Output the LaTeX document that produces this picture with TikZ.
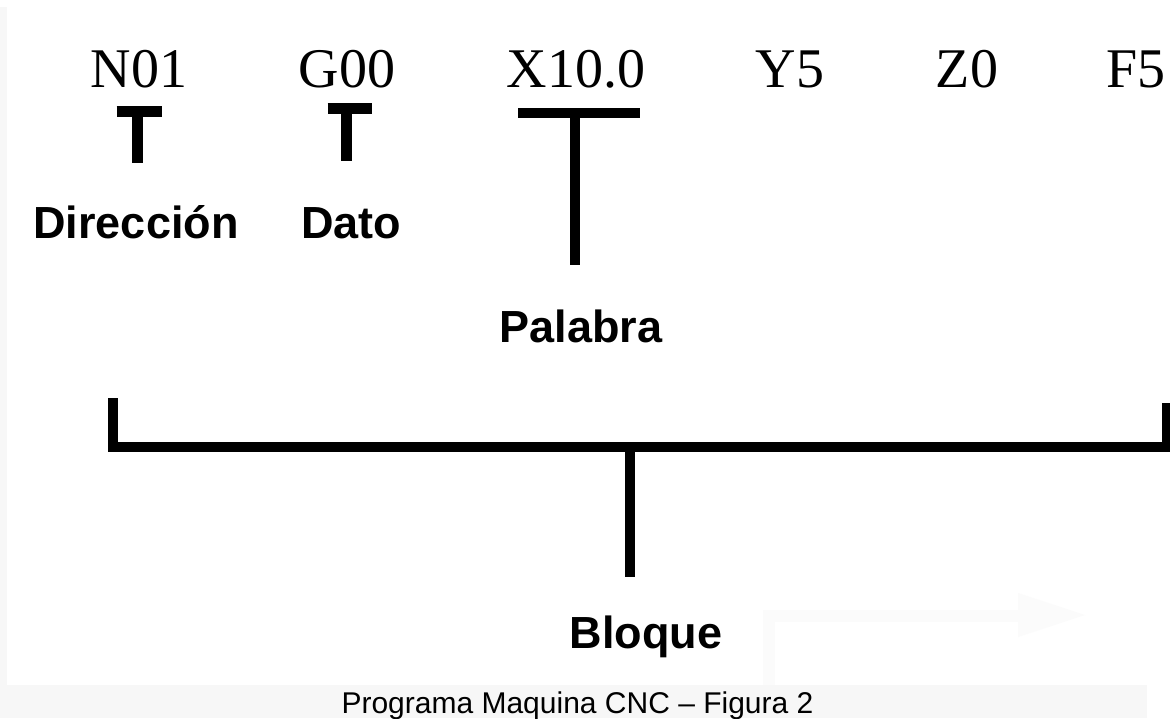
\documentclass[tikz,border=0pt]{standalone}
\usepackage{fontspec}
\setmainfont{Liberation Serif}
\newfontfamily\arialfont{Liberation Sans}
\definecolor{bandgray}{HTML}{F7F7F7}
\definecolor{faint}{HTML}{FBFBFB}
\begin{document}
\begin{tikzpicture}[x=1pt,y=-1pt,
  code/.style={anchor=base,inner sep=0pt,font=\fontsize{56}{60}\selectfont},
  lab/.style={anchor=base,inner sep=0pt,font=\arialfont\bfseries\fontsize{45}{48}\selectfont},
  thick bar/.style={line width=10.5pt},
  stem/.style={line width=11pt},
  brk/.style={line width=10pt}]
\useasboundingbox (0,0) rectangle (1170,718);
\fill[white] (0,0) rectangle (1170,718);
% scanned page edges
\fill[bandgray] (0,7) rectangle (7,685);
\fill[bandgray] (0,685) rectangle (1147,718);
% faint ghost arrow
\fill[faint] (763,610) rectangle (1022,622);
\fill[faint] (763,610) rectangle (775,685);
\fill[faint] (1018,593) -- (1085,615) -- (1018,637) -- cycle;

% code words
\node[code] (n01) at (139,87) {N01};
\node[code] (g00) at (347,87) {G00};
\node[code] (x10) at (576,87) {X10.0};
\node[code] (y5)  at (790,87) {Y5};
\node[code] (z0)  at (967,87) {Z0};
\node[code] (f5)  at (1136,87) {F5};

% labels
\node[lab] (dir) at (136,238) {Dirección};
\node[lab] (dato) at (351,238) {Dato};
\node[lab] (pal) at (581,342) {Palabra};
\node[lab] (blo) at (646,648) {Bloque};

% T under N01
\coordinate (t1l) at (116.7,111.5);
\coordinate (t1r) at (162.3,111.5);
\coordinate (t1s) at (137.5,106);
\coordinate (t1e) at (137.5,163);
\draw[thick bar] (t1l) -- (t1r);
\draw[stem] (t1s) -- (t1e);

% T under G00
\coordinate (t2l) at (327.7,108.7);
\coordinate (t2r) at (371.7,108.7);
\coordinate (t2s) at (346.5,103.3);
\coordinate (t2e) at (346.5,160.7);
\draw[thick bar] (t2l) -- (t2r);
\draw[stem] (t2s) -- (t2e);

% T under X10.0
\coordinate (t3l) at (518,113);
\coordinate (t3r) at (640,113);
\coordinate (t3s) at (575,113);
\coordinate (t3e) at (575,265);
\draw[brk] (t3l) -- (t3r);
\draw[brk] (t3s) -- (t3e);

% Bloque bracket
\coordinate (bl) at (112.5,398);
\coordinate (br) at (1167,403);
\coordinate (bm) at (630,447);
\coordinate (be) at (630,577);
\draw[brk] (bl) -- (112.5,447) -- (1167,447) -- (br);
\draw[brk] (bm) -- (be);

% caption
\node[anchor=base,inner sep=0pt,font=\arialfont\fontsize{30}{32}\selectfont] (cap) at (577.5,713) {Programa Maquina CNC – Figura 2};
\end{tikzpicture}
\end{document}
